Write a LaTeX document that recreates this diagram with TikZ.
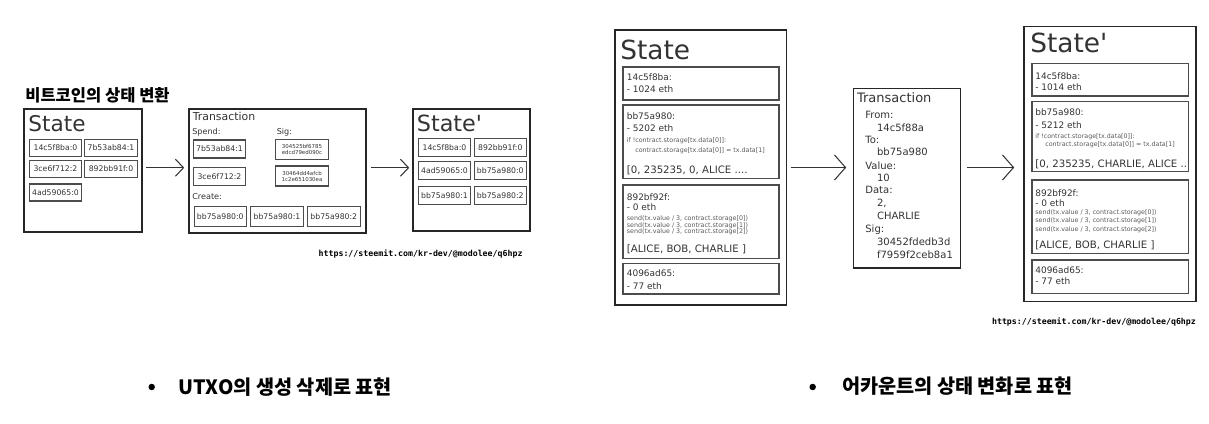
\documentclass[tikz,border=0pt]{standalone}
\usepackage{fontspec}
\setmainfont{DejaVu Sans}[Ligatures=TeXOff]
\newfontfamily\kofont{Noto Sans CJK KR}
\newfontfamily\urlfont{DejaVu Sans Mono}
\usetikzlibrary{arrows.meta,fit}
\newcommand{\fsz}[1]{\fontsize{#1}{#1}\selectfont}

\begin{document}
\begin{tikzpicture}[x=0.2mm, y=-0.2mm,
    outerbox/.style={draw=black!85, line width=0.9pt, inner sep=0pt},
    accbox/.style={draw=black!70, line width=0.6pt, inner sep=0pt},
    itembox/.style={draw=black!70, line width=0.6pt, inner sep=0pt, minimum width=10.5mm,
        minimum height=3.4mm, font=\fsz{4.4}, text=black!80},
    sigbox/.style={itembox, minimum height=4mm, align=center, font=\fontsize{3.1}{3.4}\selectfont},
    boxline/.style={anchor=base west, inner sep=0pt, text=black!80, font=\fsz{5.1}},
    codeline/.style={anchor=base west, inner sep=0pt, text=black!65, font=\fsz{3.6}},
    kotext/.style={anchor=base west, inner sep=0pt, text=black},
    weburl/.style={anchor=base west, inner sep=0pt, font=\urlfont\bfseries\fsz{4.7}},
    dot/.style={circle, fill=black, inner sep=0pt, minimum size=1.3mm},
    arr/.style={-{Straight Barb[length=1.6mm,width=3.4mm]}, line width=0.6pt, draw=black!80},
    bigarr/.style={-{Straight Barb[length=2.2mm,width=5mm]}, line width=0.6pt, draw=black!80}]
    \useasboundingbox (0,0) rectangle (1209,424);

    % --- bitcoin (UTXO) ---
    \node[kotext, font=\kofont\bfseries\fsz{9.4}] (ttl) at (25,102) {비트코인의 상태 변환};
    \node[outerbox, fit={(24,109)(142,232)}] (stA) {};
    \node[boxline, font=\fsz{12.3}] (stAt) at (28,132) {State};
    \foreach \t/\x/\y [count=\i] in {14c5f8ba:0/55.5/147.7, 7b53ab84:1/111/147.7,
        3ce6f712:2/55.5/168.7, 892bb91f:0/111/168.7, 4ad59065:0/55.5/192.5}
        \node[itembox] (a\i) at (\x,\y) {\t};

    \node[outerbox, fit={(189,109)(366,233)}] (txA) {};
    \node[boxline, font=\fsz{6.2}] (txAt) at (192.5,121) {Transaction};
    \node[boxline, font=\fsz{4.6}] (spd) at (192,135) {Spend:};
    \node[boxline, font=\fsz{4.6}] (sig) at (276.5,135) {Sig:};
    \node[itembox, minimum height=3.6mm] (b1) at (219.5,149) {7b53ab84:1};
    \node[itembox, minimum height=3.6mm] (b2) at (219.5,176.3) {3ce6f712:2};
    \node[sigbox] (g1) at (302,149.3) {304525bf6785\\edcd79ed090c};
    \node[sigbox] (g2) at (302,176) {30464dd4afcb\\1c2e651030ea};
    \node[boxline, font=\fsz{4.6}] (crt) at (192,200) {Create:};
    \foreach \t/\x [count=\i] in {bb75a980:0/220.3, bb75a980:1/277, bb75a980:2/333.8}
        \node[itembox, minimum height=4mm] (c\i) at (\x,216.7) {\t};

    \node[outerbox, fit={(413,109)(530,231)}] (stB) {};
    \node[boxline, font=\fsz{12.7}] (stBt) at (416.5,131.7) {State'};
    \foreach \t/\x/\y [count=\i] in {14c5f8ba:0/444.5/147.2, 892bb91f:0/500.3/147.2,
        4ad59065:0/444.5/170.8, bb75a980:0/500.3/170.8,
        bb75a980:1/444.5/195.5, bb75a980:2/500.3/195.5}
        \node[itembox, minimum height=3.6mm] (d\i) at (\x,\y) {\t};

    \draw[arr, shorten <=0.6mm, shorten >=0.8mm] ([yshift=0.55mm]stA.east) -- ([yshift=0.55mm]stA.east -| txA.west);
    \draw[arr, shorten <=0.8mm, shorten >=0.6mm] ([yshift=0.45mm]stB.west -| txA.east) -- ([yshift=0.45mm]stB.west);
    \node[weburl] (urlA) at (318.3,256.7) {https://steemit.com/kr-dev/@modolee/q6hpz};

    % --- ethereum (account) ---
    \node[outerbox, fit={(615,30)(786.5,305)}] (stC) {};
    \node[boxline, font=\fsz{15}] (stCt) at (620,60) {State};
    \node[accbox, fit={(623,67)(779,100)}] (e1) {};
    \node[boxline] (e1a) at (626.5,81) {14c5f8ba:};
    \node[boxline] (e1b) at (626.5,93) {- 1024 eth};
    \node[accbox, fit={(623,105)(779,178.5)}] (e2) {};
    \node[boxline] (e2a) at (626.5,120) {bb75a980:};
    \node[boxline] (e2b) at (626.5,132) {- 5202 eth};
    \node[codeline] (e2c) at (626.5,143) {if !contract.storage[tx.data[0]]:};
    \node[codeline] (e2d) at (635,153) {contract.storage[tx.data[0]] = tx.data[1]};
    \node[boxline, font=\fsz{5.8}] (e2e) at (626.5,173.3) {[0, 235235, 0, ALICE ....};
    \node[accbox, fit={(623,185)(779,258.3)}] (e3) {};
    \node[boxline] (e3a) at (626.5,200.5) {892bf92f:};
    \node[boxline] (e3b) at (626.5,210.5) {- 0 eth};
    \node[codeline] (e3c) at (626.5,220.7) {send(tx.value / 3, contract.storage[0])};
    \node[codeline] (e3d) at (626.5,227.3) {send(tx.value / 3, contract.storage[1])};
    \node[codeline] (e3e) at (626.5,234) {send(tx.value / 3, contract.storage[2])};
    \node[boxline, font=\fsz{5.8}] (e3f) at (626.5,252.7) {[ALICE, BOB, CHARLIE ]};
    \node[accbox, fit={(623,263.3)(779,294)}] (e4) {};
    \node[boxline] (e4a) at (626.5,276.7) {4096ad65:};
    \node[boxline] (e4b) at (626.5,290) {- 77 eth};

    \node[outerbox, fit={(853.5,88.5)(960.5,268)}] (txB) {};
    \node[boxline, font=\fsz{7.4}] (txBt) at (856.7,102.7) {Transaction};
    \foreach \t/\x/\y [count=\i] in {From:/865/118.3, 14c5f88a/876.7/131.7, To:/865/143.3,
        bb75a980/876.7/156, Value:/865/169.3, 10/876.7/181.7, Data:/865/194,
        {2,}/876.7/206.7, CHARLIE/876.7/220, Sig:/865/232.7,
        30452fdedb3d/876.7/245.7, f7959f2ceb8a1/876.7/258.3}
        \node[boxline, font=\fsz{5.7}] (tf\i) at (\x,\y) {\t};

    \node[outerbox, fit={(1024,26.5)(1196,301.5)}] (stD) {};
    \node[boxline, font=\fsz{15}] (stDt) at (1030,52.7) {State'};
    \node[accbox, fit={(1032,63.3)(1188.3,96)}] (f1) {};
    \node[boxline] (f1a) at (1035,79.3) {14c5f8ba:};
    \node[boxline] (f1b) at (1035,90.7) {- 1014 eth};
    \node[accbox, fit={(1032,101.7)(1188.3,171.7)}] (f2) {};
    \node[boxline] (f2a) at (1035,116) {bb75a980:};
    \node[boxline] (f2b) at (1035,128.7) {- 5212 eth};
    \node[codeline] (f2c) at (1035,138.5) {if !contract.storage[tx.data[0]]:};
    \node[codeline] (f2d) at (1045,146.7) {contract.storage[tx.data[0]] = tx.data[1]};
    \node[boxline, font=\fsz{5.8}] (f2e) at (1035,167.3) {[0, 235235, CHARLIE, ALICE ..};
    \node[accbox, fit={(1032,180)(1188.3,253.3)}] (f3) {};
    \node[boxline] (f3a) at (1035,196.7) {892bf92f:};
    \node[boxline] (f3b) at (1035,206.7) {- 0 eth};
    \node[codeline] (f3c) at (1035,214.7) {send(tx.value / 3, contract.storage[0])};
    \node[codeline] (f3d) at (1035,223) {send(tx.value / 3, contract.storage[1])};
    \node[codeline] (f3e) at (1035,231.3) {send(tx.value / 3, contract.storage[2])};
    \node[boxline, font=\fsz{5.8}] (f3f) at (1035,249) {[ALICE, BOB, CHARLIE ]};
    \node[accbox, fit={(1032,260)(1188.3,293.3)}] (f4) {};
    \node[boxline] (f4a) at (1035,273.3) {4096ad65:};
    \node[boxline] (f4b) at (1035,285) {- 77 eth};

    \draw[bigarr, shorten <=0.7mm, shorten >=1.3mm] (stC.east) -- (stC.east -| txB.west);
    \draw[bigarr, shorten <=1.2mm, shorten >=1.8mm] (stC.east -| txB.east) -- (stC.east -| stD.west);
    \node[weburl] (urlB) at (991.7,325) {https://steemit.com/kr-dev/@modolee/q6hpz};

    % --- bullets ---
    \node[dot] (bl1) at (151.7,387) {};
    \node[kotext, font=\kofont\bfseries\fsz{11.2}] (bt1) at (178.3,394.5) {UTXO의 생성 삭제로 표현};
    \node[dot] (bl2) at (812.7,387) {};
    \node[kotext, font=\kofont\bfseries\fsz{11.2}] (bt2) at (841.7,393.5) {어카운트의 상태 변화로 표현};
\end{tikzpicture}
\end{document}
